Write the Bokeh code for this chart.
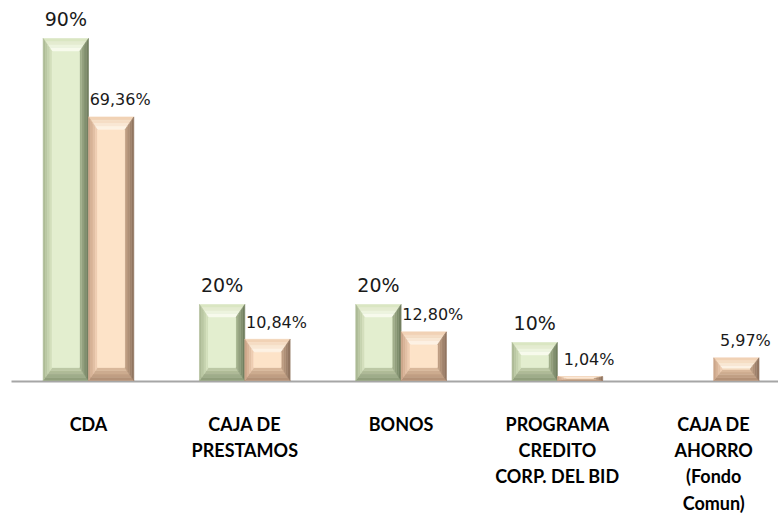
import numpy as np
from bokeh.plotting import figure
from bokeh.models import Range1d, ColumnDataSource
from bokeh.embed import file_html
from bokeh.resources import INLINE
from bokeh.core.properties import value

# ---- data ----
categories = ["CDA", "CAJA DE\nPRESTAMOS", "BONOS",
              "PROGRAMA\nCREDITO\nCORP. DEL BID", "CAJA DE\nAHORRO\n(Fondo\nComun)"]
series_a = [90, 20, 20, 10, 0]
series_b = [69.36, 10.84, 12.80, 1.04, 5.97]
labels_a = ["90%", "20%", "20%", "10%", ""]
labels_b = ["69,36%", "10,84%", "12,80%", "1,04%", "5,97%"]

# ---- layout constants (pixels) ----
W, H = 778, 519
PX_PER_CAT = 156.3
PX_PER_PCT = 3.8
BASE_PX = 380          # baseline distance from frame top
LEFT_BORDER = 10
CAT0_PX = 78           # first category centre from frame left
xs_per_px = 1.0 / PX_PER_CAT
ys_per_px = 1.0 / PX_PER_PCT

frame_w = W - LEFT_BORDER
x_start = -CAT0_PX * xs_per_px
x_end = x_start + frame_w * xs_per_px
y_end = BASE_PX * ys_per_px
y_start = -(H - BASE_PX) * ys_per_px

p = figure(width=W, height=H, output_backend="svg", toolbar_location=None,
           x_range=Range1d(x_start, x_end), y_range=Range1d(y_start, y_end),
           min_border_left=LEFT_BORDER, min_border_right=0,
           min_border_top=0, min_border_bottom=0)
p.axis.visible = False
p.grid.visible = False
p.outline_line_color = None
p.background_fill_color = "white"
p.border_fill_color = "white"

# baseline
p.segment(x0=[x_start + 1 * xs_per_px], y0=[-1 * ys_per_px],
          x1=[x_end], y1=[-1 * ys_per_px], line_color="#a6a6a6", line_width=2)

BAR_W = 0.29          # fraction of category
BEV_H = 9 * xs_per_px
BEV_V = 13 * ys_per_px


def hexrgb(h):
    h = h.lstrip("#")
    return np.array([int(h[i:i + 2], 16) for i in (0, 2, 4)], dtype=float)


def mix(c0, c1, t):
    c = hexrgb(c0) * (1 - t) + hexrgb(c1) * t
    return "#%02x%02x%02x" % tuple(int(round(v)) for v in c)


green = dict(face="#e3eecf", top=("#d5e2bb", "#fcfef3"), left=("#a7b590", "#d9e5c2"),
             right=("#6b785a", "#a9b792"), bottom=("#8a9875", "#c3cfac"))
peach = dict(face="#fde3c8", top=("#efcdad", "#fff7ec"), left=("#c7a084", "#f3d3b7"),
             right=("#8a6f5b", "#c6a488"), bottom=("#ad8b71", "#dfbea1"))

xs_all, ys_all, cols_all = [], [], []
N = 4


def bevel_bar(x0, x1, h, pal):
    if h <= 0:
        return
    bh = min(BEV_H, (x1 - x0) / 2)
    bv = min(BEV_V, h / 2)

    def rect(d):
        return (x0 + d * bh, x1 - d * bh, d * bv, h - d * bv)
    for k in range(N):
        d0, d1 = k / N, (k + 1) / N
        t = (k + 0.5) / N
        a0, a1, b0, b1 = rect(d0)
        c0, c1, e0, e1 = rect(d1)
        xs_all.append([a0, a1, c1, c0]); ys_all.append([b1, b1, e1, e1])
        cols_all.append(mix(*pal["top"], t))
        xs_all.append([a0, a1, c1, c0]); ys_all.append([b0, b0, e0, e0])
        cols_all.append(mix(*pal["bottom"], t))
        xs_all.append([a0, a0, c0, c0]); ys_all.append([b0, b1, e1, e0])
        cols_all.append(mix(*pal["left"], t))
        xs_all.append([a1, a1, c1, c1]); ys_all.append([b0, b1, e1, e0])
        cols_all.append(mix(*pal["right"], t))
    c0, c1, e0, e1 = rect(1)
    xs_all.append([c0, c1, c1, c0]); ys_all.append([e0, e0, e1, e1])
    cols_all.append(pal["face"])


idx = np.arange(len(categories))
for i in idx:
    bevel_bar(i - BAR_W, i, series_a[i], green)
    bevel_bar(i, i + BAR_W, series_b[i], peach)

p.patches(xs=xs_all, ys=ys_all, fill_color=cols_all, line_color=cols_all, line_width=0.6)

# value labels
src_a = ColumnDataSource(dict(x=idx - BAR_W / 2, y=np.array(series_a) + 20 * ys_per_px, t=labels_a))
p.text(x="x", y="y", text="t", source=src_a, text_align="center", text_baseline="middle",
       text_font=value("DejaVu Sans"), text_font_size="19px", text_color="#1a1a1a")
src_b = ColumnDataSource(dict(x=idx + BAR_W / 2 + 9 * xs_per_px,
                              y=np.array(series_b) + 17 * ys_per_px, t=labels_b))
p.text(x="x", y="y", text="t", source=src_b, text_align="center", text_baseline="middle",
       text_font=value("DejaVu Sans"), text_font_size="16px", text_color="#1a1a1a")

# category labels
src_c = ColumnDataSource(dict(x=idx, y=np.full(len(idx), -32 * ys_per_px), t=categories))
p.text(x="x", y="y", text="t", source=src_c, text_align="center", text_baseline="top",
       text_font=value("Lato"), text_font_style="bold", text_font_size="18px",
       text_line_height=1.2, text_color="#000000")

open("out.html", "w").write(file_html(p, INLINE))
